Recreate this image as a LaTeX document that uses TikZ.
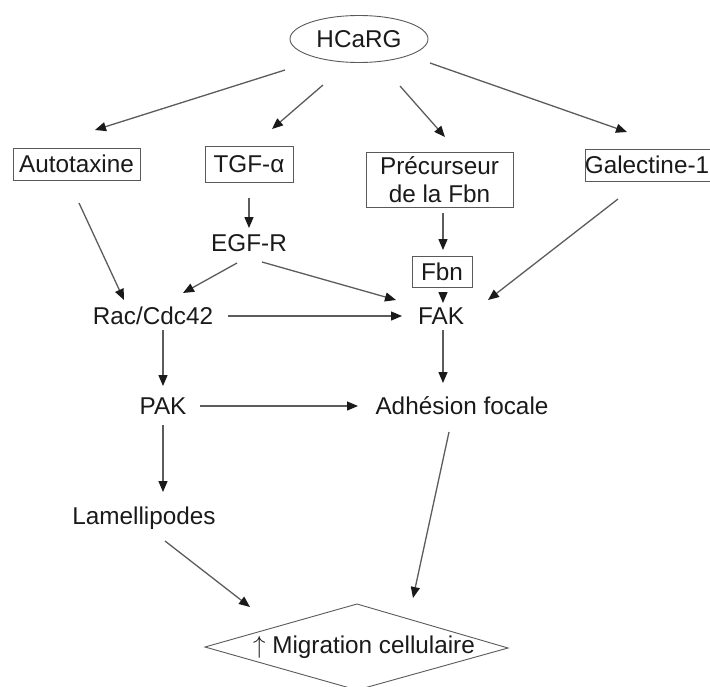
\documentclass[tikz,border=0pt]{standalone}
\usepackage{fontspec}
\setmainfont{Liberation Sans}
\usetikzlibrary{arrows.meta,shapes.geometric,calc}
\definecolor{txt}{HTML}{1A1A1A}
\definecolor{lineg}{HTML}{5C5C5C}
\definecolor{tipc}{HTML}{1A1A1A}
\definecolor{boxline}{HTML}{5A5A5A}
\begin{document}
\begin{tikzpicture}[x=1pt,y=-1pt,
  font=\fontsize{24.3}{27.5}\selectfont,
  lbl/.style={inner sep=0pt, text=txt},
  box/.style={draw=boxline, line width=0.9pt, inner sep=0pt, text=txt, align=center},
  arr/.style={draw=lineg, line width=1.3pt,
    -{Triangle[length=11pt,width=9pt,color=tipc]}},
]
\fill[white] (0,0) rectangle (710,686);
\useasboundingbox (0,0) rectangle (710,686);
\clip (0,0) rectangle (710,686);

% nodes
\node[ellipse, draw=boxline, line width=0.9pt, minimum width=138pt, minimum height=47pt,
      inner sep=0pt, text=txt] (hcarg) at (359,39) {HCaRG};
\node[box, minimum width=127pt, minimum height=32pt] (auto) at (76.5,164) {Autotaxine};
\node[box, minimum width=88pt, minimum height=36pt] (tgf) at (249,164) {TGF-α};
\node[box, minimum width=147pt, minimum height=55pt] (prec) at (439.5,179.5)
     {Précurseur\\de la Fbn};
\node[box, minimum width=136pt, minimum height=32pt] (gal) at (653,165) {\hspace*{-6pt}Galectine-1\hspace*{6pt}};
\node[lbl] (egfr) at (249,243) {EGF-R};
\node[box, minimum width=60pt, minimum height=31pt] (fbn) at (442,271.5) {Fbn};
\node[lbl] (rac) at (153,316) {Rac/Cdc42};
\node[lbl] (fak) at (441,316) {FAK};
\node[lbl] (pak) at (163,406) {PAK};
\node[lbl] (adh) at (462,406) {Adhésion focale};
\node[lbl] (lam) at (144,518) {Lamellipodes};
\node[lbl] (mig) at (364,647) {$\uparrow$ Migration cellulaire};

% diamond around the outcome
\draw[boxline, line width=0.9pt] ($(mig)+(-159,0)$) -- ($(mig)+(-7,-43)$)
  -- ($(mig)+(144,1)$) -- ($(mig)+(-7,43)$) -- cycle;

% connectors
\draw[arr] ($(hcarg)+(-74,31)$) -- ($(auto)+(18.5,-34)$);
\draw[arr] ($(hcarg)+(-36,46)$) -- ($(tgf)+(23,-35)$);
\draw[arr] ($(hcarg)+(41,47)$) -- ($(prec)+(5.5,-42.5)$);
\draw[arr] ($(hcarg)+(71,24)$) -- ($(gal)+(-26,-33)$);
\draw[arr] ($(auto)+(2.5,39)$) -- ($(rac)+(-29,-16)$);
\draw[arr] ($(tgf)+(0,34)$) -- ($(egfr)+(0,-15)$);
\draw[arr] ($(egfr)+(-12,20)$) -- ($(rac)+(30,-23)$);
\draw[arr] ($(egfr)+(13,19)$) -- ($(fak)+(-45,-16)$);
\draw[arr] ($(prec)+(3.5,33.5)$) -- ($(fbn)+(1,-21.5)$);
\draw[arr] ($(fbn)+(1,21.5)$) -- ($(fak)+(2,-13)$);
\draw[arr] ($(gal)+(-35,34)$) -- ($(fak)+(47,-16)$);
\draw[arr] ($(rac)+(75,0)$) -- ($(fak)+(-39,0)$);
\draw[arr] ($(rac)+(10,14)$) -- ($(pak)+(0,-20)$);
\draw[arr] ($(fak)+(2,14)$) -- ($(adh)+(-19,-23)$);
\draw[arr] ($(pak)+(37,0)$) -- ($(adh)+(-104,0)$);
\draw[arr] ($(pak)+(0,19)$) -- ($(lam)+(19,-26)$);
\draw[arr] ($(adh)+(-13,26)$) -- ($(mig)+(49,-49)$);
\draw[arr] ($(lam)+(21,23)$) -- ($(mig)+(-114,-40)$);
\end{tikzpicture}
\end{document}
